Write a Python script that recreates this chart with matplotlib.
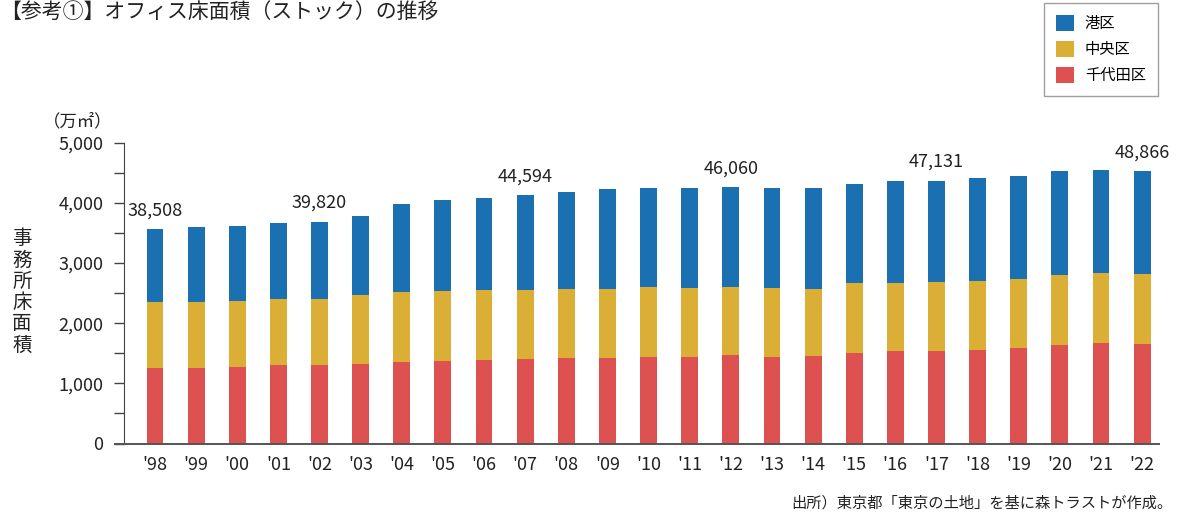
import matplotlib
matplotlib.use("Agg")
import matplotlib.pyplot as plt
import numpy as np
from matplotlib.patches import Patch
from matplotlib.ticker import MultipleLocator, FuncFormatter

plt.rcParams["font.family"] = ["Noto Sans CJK JP", "DejaVu Sans"]

# ── data (万㎡) ──────────────────────────────────────────────────────
years = ["'98", "'99", "'00", "'01", "'02", "'03", "'04", "'05", "'06",
         "'07", "'08", "'09", "'10", "'11", "'12", "'13", "'14", "'15",
         "'16", "'17", "'18", "'19", "'20", "'21", "'22"]
chiyoda = [1260, 1260, 1272, 1310, 1310, 1326, 1360, 1372, 1393, 1405,
           1421, 1426, 1443, 1443, 1466, 1438, 1449, 1499, 1533, 1538,
           1559, 1587, 1642, 1666, 1659]
chuo = [1097, 1092, 1092, 1092, 1092, 1147, 1153, 1158, 1159, 1142,
        1142, 1147, 1153, 1147, 1140, 1142, 1124, 1164, 1140, 1142,
        1147, 1142, 1159, 1163, 1153]
minato = [1203, 1252, 1256, 1263, 1285, 1309, 1463, 1523, 1524, 1579,
          1623, 1657, 1656, 1652, 1653, 1667, 1674, 1656, 1690, 1688,
          1707, 1723, 1729, 1712, 1718]
# 23-ward totals printed above selected bars
total_idx = [0, 4, 9, 14, 19, 24]
total_txt = ["38,508", "39,820", "44,594", "46,060", "47,131", "48,866"]

series = ["港区", "中央区", "千代田区"]
colors = {"港区": "#1a70b0", "中央区": "#dbae36", "千代田区": "#de5151"}

W, H = 1178, 517
fig = plt.figure(figsize=(W / 100, H / 100), dpi=100)
ax = fig.add_axes([124 / W, 1 - 443.5 / H, (1159 - 124) / W, (443.5 - 142.7) / H])

x = np.arange(len(years))
red = np.array(chiyoda)
yel = np.array(chuo)
blu = np.array(minato)
ax.bar(x, red, width=0.41, color=colors["千代田区"], lw=0)
ax.bar(x, yel, width=0.41, bottom=red, color=colors["中央区"], lw=0)
ax.bar(x, blu, width=0.41, bottom=red + yel, color=colors["港区"], lw=0)

tops = red + yel + blu
for i, t in zip(total_idx, total_txt):
    ax.annotate(t, (x[i], tops[i]), xytext=(0, 7), textcoords="offset points",
                ha="center", va="bottom", fontsize=13, color="#222")

ax.set_xlim(-0.754, 24.41)
ax.set_ylim(0, 5000)
ax.set_xticks(x)
ax.set_xticklabels(years, fontsize=13, color="#222")
ax.tick_params(axis="x", length=0, pad=9)
ax.yaxis.set_major_locator(MultipleLocator(1000))
ax.yaxis.set_minor_locator(MultipleLocator(500))
ax.yaxis.set_major_formatter(FuncFormatter(lambda v, _: f"{int(v):,}"))
ax.tick_params(axis="y", which="both", length=7, width=1, color="#444",
               labelsize=13, labelcolor="#222", pad=8)
for s in ("top", "right"):
    ax.spines[s].set_visible(False)
ax.spines["left"].set_color("#444")
ax.spines["bottom"].set_color("#555")
ax.spines["bottom"].set_bounds(-0.97, 24.41)
ax.spines["bottom"].set_linewidth(1.4)

# unit + vertical axis title
fig.text(78 / W, 1 - 121 / H, "（万㎡）", ha="center", va="center",
         fontsize=12.5, color="#222")
fig.text(22 / W, 1 - 292 / H, "\n".join("事務所床面積"), ha="center",
         va="center", fontsize=14, linespacing=1.02, color="#222")

# title
fig.text(0, 1 - 1 / H, "【参考①】オフィス床面積（ストック）の推移",
         ha="left", va="top", fontsize=15, color="#222")

# source
fig.text(1173 / W, 1 - 503 / H,
         "出所）東京都「東京の土地」を基に森トラストが作成。",
         ha="right", va="center", fontsize=11, color="#222")

handles = [Patch(facecolor=colors[s], edgecolor="none") for s in series]
leg = fig.legend(handles, series, loc="upper right",
                 bbox_to_anchor=(1158 / W, 1 - 2.7 / H),
                 fontsize=11, frameon=True, fancybox=False,
                 edgecolor="#888", handlelength=1.2, handleheight=1.2,
                 labelspacing=0.6, borderpad=0.8, handletextpad=0.7,
                 borderaxespad=0)
leg.get_frame().set_linewidth(1.0)

fig.savefig("out.png", dpi=100)
